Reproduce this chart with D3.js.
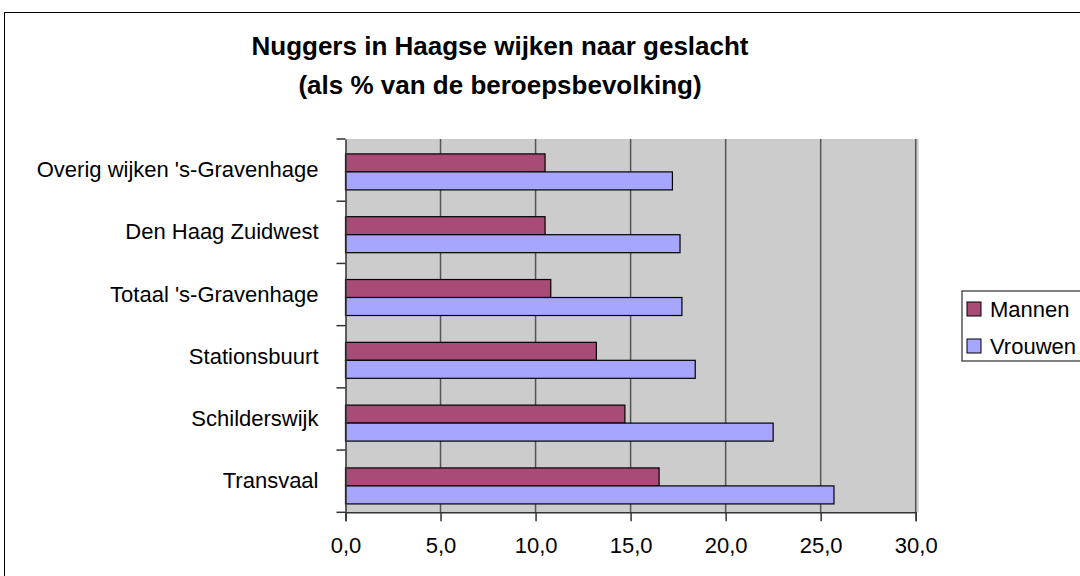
<!DOCTYPE html>
<html>
<head>
<meta charset="utf-8">
<script src="https://cdn.jsdelivr.net/npm/d3@7"></script>
<style>
  body { margin: 0; background: #fff; }
  svg { display: block; font-family: "Liberation Sans", Arial, sans-serif; }
</style>
</head>
<body>
<div id="chart"></div>
<script>
var width = 1080,
    height = 576;

// data, bottom category first (as in the spreadsheet)
var categories = ["Transvaal", "Schilderswijk", "Stationsbuurt", "Totaal 's-Gravenhage", "Den Haag Zuidwest", "Overig wijken 's-Gravenhage"];
var mannen = [16.5, 14.7, 13.2, 10.8, 10.5, 10.5];
var vrouwen = [25.7, 22.5, 18.4, 17.7, 17.6, 17.2];
var seriesNames = ["Mannen", "Vrouwen"];
var xTicks = [0, 5, 10, 15, 20, 25, 30];

var colors = { "Mannen": "#a84b77", "Vrouwen": "#a6a6ff" };

var plot = { left: 345.5, right: 915.7, top: 139, bottom: 512.3 };

var svg = d3.select("#chart").append("svg")
    .attr("width", width)
    .attr("height", height);

// outer chart border
svg.append("rect")
    .attr("x", 4.5).attr("y", 12.5)
    .attr("width", width + 10).attr("height", height + 10)
    .attr("fill", "#fff")
    .attr("stroke", "#000")
    .attr("stroke-width", 1);

// title
var title = svg.append("text")
    .attr("text-anchor", "middle")
    .attr("font-weight", "bold")
    .attr("font-size", 26)
    .attr("fill", "#000");
title.append("tspan").attr("x", 500).attr("y", 55).text("Nuggers in Haagse wijken naar geslacht");
title.append("tspan").attr("x", 500).attr("y", 94).text("(als % van de beroepsbevolking)");

var x = d3.scaleLinear()
    .domain([0, 30])
    .range([plot.left, plot.right]);

// category axis (ticks and labels)
var yCat = d3.scaleBand()
    .domain(categories.slice().reverse())
    .range([plot.top, plot.bottom]);

// bar groups
var yBar = d3.scaleBand()
    .domain(categories.slice().reverse())
    .range([plot.top, plot.bottom])
    .paddingInner(0.427)
    .paddingOuter(0.1855)
    .align(0.64);

var ySeries = d3.scaleBand()
    .domain(seriesNames)
    .range([0, yBar.bandwidth()]);

// plot area background
svg.append("rect")
    .attr("x", plot.left).attr("y", plot.top)
    .attr("width", plot.right - plot.left + 3)
    .attr("height", plot.bottom - plot.top)
    .attr("fill", "#cccccc");

// vertical gridlines
svg.append("g")
    .selectAll("line")
    .data(xTicks.slice(1))
    .enter().append("line")
    .attr("x1", function(d) { return x(d); })
    .attr("x2", function(d) { return x(d); })
    .attr("y1", plot.top)
    .attr("y2", plot.bottom)
    .attr("stroke", "#555")
    .attr("stroke-width", 1.5);

// bars
var rows = categories.map(function(c, i) {
    return { cat: c, values: [
        { name: "Mannen", value: mannen[i] },
        { name: "Vrouwen", value: vrouwen[i] }
    ] };
});

var groups = svg.append("g").selectAll("g")
    .data(rows)
    .enter().append("g")
    .attr("transform", function(d) { return "translate(0," + yBar(d.cat) + ")"; });

groups.selectAll("rect")
    .data(function(d) { return d.values; })
    .enter().append("rect")
    .attr("x", x(0))
    .attr("y", function(d) { return ySeries(d.name); })
    .attr("width", function(d) { return x(d.value) - x(0); })
    .attr("height", ySeries.bandwidth())
    .attr("fill", function(d) { return colors[d.name]; })
    .attr("stroke", "#000")
    .attr("stroke-width", 1.2);

// x axis
var xAxis = svg.append("g")
    .attr("transform", "translate(0," + plot.bottom + ")")
    .call(d3.axisBottom(x)
        .tickValues(xTicks)
        .tickSize(9)
        .tickPadding(16)
        .tickFormat(function(d) { return d3.format(".1f")(d).replace(".", ","); }));
xAxis.select(".domain").attr("stroke", "#333").attr("stroke-width", 1.5);
xAxis.selectAll(".tick line").attr("stroke", "#333").attr("stroke-width", 1.5);
xAxis.selectAll("text")
    .attr("font-size", 22)
    .attr("font-family", "'Liberation Sans', Arial, sans-serif")
    .attr("fill", "#000");

// y axis
var yAxis = svg.append("g")
    .attr("transform", "translate(" + plot.left + ",0)")
    .call(d3.axisLeft(yCat).tickSize(0).tickPadding(27));
yAxis.select(".domain").attr("stroke", "#333").attr("stroke-width", 1.5);
yAxis.selectAll("text")
    .attr("font-size", 22)
    .attr("font-family", "'Liberation Sans', Arial, sans-serif")
    .attr("fill", "#000");

// category boundary ticks
var bounds = categories.map(function(c) { return yCat(c); }).concat([plot.bottom]);
svg.append("g").selectAll("line")
    .data(bounds)
    .enter().append("line")
    .attr("x1", plot.left - 9)
    .attr("x2", plot.left)
    .attr("y1", function(d) { return d; })
    .attr("y2", function(d) { return d; })
    .attr("stroke", "#333")
    .attr("stroke-width", 1.5);

// legend
var legend = svg.append("g");
legend.append("rect")
    .attr("x", 962).attr("y", 291)
    .attr("width", 140).attr("height", 70)
    .attr("fill", "#fff")
    .attr("stroke", "#000")
    .attr("stroke-width", 1);

var legendY = d3.scalePoint()
    .domain(seriesNames)
    .range([309, 346]);

var items = legend.selectAll(".item")
    .data(seriesNames)
    .enter().append("g")
    .attr("class", "item")
    .attr("transform", function(d) { return "translate(967," + legendY(d) + ")"; });

items.append("rect")
    .attr("x", 0).attr("y", -7)
    .attr("width", 14).attr("height", 14)
    .attr("fill", function(d) { return colors[d]; })
    .attr("stroke", "#000")
    .attr("stroke-width", 1);

items.append("text")
    .attr("x", 23)
    .attr("dy", "0.35em")
    .attr("font-size", 22)
    .attr("fill", "#000")
    .text(function(d) { return d; });
</script>
</body>
</html>
